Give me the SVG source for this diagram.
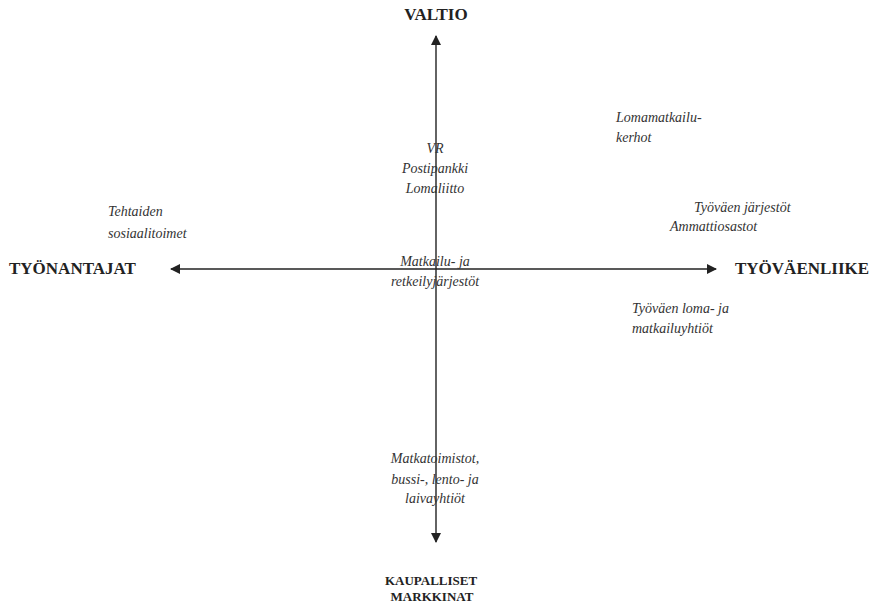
<svg xmlns="http://www.w3.org/2000/svg" width="876" height="605" viewBox="0 0 876 605">
<style>
text{font-family:"Liberation Serif","DejaVu Serif",serif;fill:#222}
.h{font-weight:bold;font-size:17px}
.hs{font-weight:bold;font-size:13px}
.i{font-style:italic;font-size:14px;fill:#333}
.ax{stroke:#222;stroke-width:1.4;fill:none}
</style>
<defs>
<marker id="ah" viewBox="0 0 10 10" refX="9" refY="5" markerWidth="10" markerHeight="10" markerUnits="userSpaceOnUse" orient="auto">
<path d="M0,0 L10,5 L0,10 z" fill="#222"/>
</marker>
</defs>
<rect width="876" height="605" fill="#fff"/>
<g id="connectors">
<line class="ax" x1="436" y1="269" x2="436" y2="36" marker-end="url(#ah)"/>
<line class="ax" x1="436" y1="269" x2="436" y2="542" marker-end="url(#ah)"/>
<line class="ax" x1="436" y1="269" x2="171" y2="269" marker-end="url(#ah)"/>
<line class="ax" x1="436" y1="269" x2="716" y2="269" marker-end="url(#ah)"/>
</g>
<g id="valtio"><text class="h" x="436" y="20" text-anchor="middle">VALTIO</text></g>
<g id="tyonantajat"><text class="h" x="9" y="274">TYÖNANTAJAT</text></g>
<g id="tyovaenliike"><text class="h" x="735" y="274">TYÖVÄENLIIKE</text></g>
<g id="kaupalliset"><text class="hs" x="431" y="585" text-anchor="middle">KAUPALLISET</text><text class="hs" x="432" y="601" text-anchor="middle">MARKKINAT</text></g>
<g id="lomamatkailu"><text class="i" x="616" y="122">Lomamatkailu-</text><text class="i" x="616" y="142">kerhot</text></g>
<g id="vr"><text class="i" text-anchor="middle" x="435" y="153">VR</text><text class="i" text-anchor="middle" x="435" y="173">Postipankki</text><text class="i" text-anchor="middle" x="435" y="193">Lomaliitto</text></g>
<g id="tehtaiden"><text class="i" x="108" y="216">Tehtaiden</text><text class="i" x="108" y="238">sosiaalitoimet</text></g>
<g id="tyovaen-jarjestot"><text class="i" x="694" y="212">Työväen järjestöt</text><text class="i" x="670" y="231">Ammattiosastot</text></g>
<g id="matkailu"><text class="i" text-anchor="middle" x="435" y="266">Matkailu- ja</text><text class="i" text-anchor="middle" x="435" y="286">retkeilyjärjestöt</text></g>
<g id="tyovaen-loma"><text class="i" x="632" y="313">Työväen loma- ja</text><text class="i" x="632" y="333">matkailuyhtiöt</text></g>
<g id="matkatoimistot"><text class="i" text-anchor="middle" x="435" y="463">Matkatoimistot,</text><text class="i" text-anchor="middle" x="435" y="484">bussi-, lento- ja</text><text class="i" text-anchor="middle" x="435" y="503">laivayhtiöt</text></g>
</svg>
